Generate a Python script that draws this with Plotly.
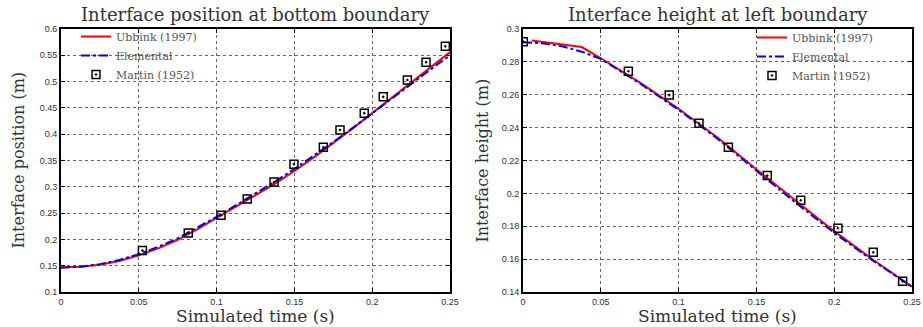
import plotly.graph_objects as go

# ---- Left panel: interface position at bottom boundary ----
t_left = [0, 0.0125, 0.025, 0.0375, 0.05, 0.0625, 0.075, 0.0875, 0.1, 0.1125, 0.125,
          0.1375, 0.15, 0.1625, 0.175, 0.1875, 0.2, 0.2125, 0.225, 0.2375, 0.25]
ubbink_left = [0.147, 0.148, 0.152, 0.159, 0.170, 0.183, 0.199, 0.219, 0.241, 0.262, 0.284,
               0.306, 0.330, 0.356, 0.383, 0.411, 0.440, 0.469, 0.498, 0.527, 0.556]
elemental_left = [0.146, 0.148, 0.153, 0.161, 0.172, 0.186, 0.202, 0.222, 0.243, 0.265, 0.287,
                  0.310, 0.334, 0.359, 0.385, 0.412, 0.440, 0.468, 0.496, 0.523, 0.550]
martin_t_left = [0.0523, 0.0818, 0.1028, 0.1197, 0.1369, 0.1497, 0.1686, 0.1793,
                 0.1949, 0.2071, 0.2226, 0.2346, 0.2470]
martin_left = [0.179, 0.212, 0.246, 0.277, 0.309, 0.343, 0.375, 0.408,
               0.440, 0.471, 0.503, 0.537, 0.567]

# ---- Right panel: interface height at left boundary ----
t_right_ubb = [0.0056, 0.0377, 0.05, 0.075, 0.1, 0.125, 0.15, 0.175, 0.2, 0.225, 0.25]
ubbink_right = [0.2930, 0.2890, 0.2822, 0.2675, 0.2515, 0.2340, 0.2147, 0.1958, 0.1770, 0.1596, 0.1432]
t_right_el = [0, 0.0125, 0.025, 0.0377, 0.05, 0.075, 0.1, 0.125, 0.15, 0.175, 0.2, 0.225, 0.25]
elemental_right = [0.2920, 0.2913, 0.2895, 0.2862, 0.2818, 0.2670, 0.2508, 0.2333, 0.2138,
                   0.1945, 0.1760, 0.1590, 0.1432]
martin_t_right = [0.0002, 0.0677, 0.0940, 0.1131, 0.1320, 0.1570, 0.1785, 0.2024, 0.2251, 0.2440]
martin_right = [0.2923, 0.2743, 0.2598, 0.2426, 0.2280, 0.2108, 0.1958, 0.1788, 0.1642, 0.1465]

x_ticks = [0, 0.05, 0.1, 0.15, 0.2, 0.25]
x_ticktext = ["0", "0.05", "0.1", "0.15", "0.2", "0.25"]
y_ticks_left = [0.1, 0.15, 0.2, 0.25, 0.3, 0.35, 0.4, 0.45, 0.5, 0.55, 0.6]
y_ticktext_left = ["0.1", "0.15", "0.2", "0.25", "0.3", "0.35", "0.4", "0.45", "0.5", "0.55", "0.6"]
y_ticks_right = [0.14, 0.16, 0.18, 0.2, 0.22, 0.24, 0.26, 0.28, 0.3]
y_ticktext_right = ["0.14", "0.16", "0.18", "0.2", "0.22", "0.24", "0.26", "0.28", "0.3"]

RED = "#ff0000"
BLUE = "#0000ff"
SERIF = "DejaVu Serif"
SANS = "Liberation Sans"

fig = go.Figure()

fig.add_trace(go.Scatter(x=t_left, y=ubbink_left, mode="lines", name="Ubbink (1997)",
                         line=dict(color=RED, width=2), xaxis="x", yaxis="y", legend="legend"))
fig.add_trace(go.Scatter(x=t_left, y=elemental_left, mode="lines", name="Elemental",
                         line=dict(color=BLUE, width=2, dash="dashdot"), xaxis="x", yaxis="y",
                         legend="legend"))
fig.add_trace(go.Scatter(x=martin_t_left, y=martin_left, mode="markers", name="Martin (1952)",
                         marker=dict(symbol="square-open-dot", size=8, color="black",
                                     line=dict(width=1.5, color="black")),
                         xaxis="x", yaxis="y", legend="legend"))

fig.add_trace(go.Scatter(x=t_right_ubb, y=ubbink_right, mode="lines", name="Ubbink (1997)",
                         line=dict(color=RED, width=2), xaxis="x2", yaxis="y2", legend="legend2"))
fig.add_trace(go.Scatter(x=t_right_el, y=elemental_right, mode="lines", name="Elemental",
                         line=dict(color=BLUE, width=2, dash="dashdot"), xaxis="x2", yaxis="y2",
                         legend="legend2"))
fig.add_trace(go.Scatter(x=martin_t_right, y=martin_right, mode="markers", name="Martin (1952)",
                         marker=dict(symbol="square-open-dot", size=8, color="black",
                                     line=dict(width=1.5, color="black")),
                         xaxis="x2", yaxis="y2", legend="legend2"))

W, H = 923, 327
ydom = [1 - 292 / H, 1 - 29 / H]


def xax(domain, anchor):
    return dict(domain=domain, anchor=anchor, range=[0, 0.25], tickvals=x_ticks,
                ticktext=x_ticktext, showline=True, linecolor="black", linewidth=2,
                mirror="ticks", ticks="inside", ticklen=4, tickcolor="black",
                showgrid=True, gridcolor="#666666", gridwidth=1, griddash="dot",
                zeroline=False, automargin=False,
                tickfont=dict(family=SANS, size=9, color="#333333"))


def yax(domain, anchor, rng, vals, text):
    return dict(domain=domain, anchor=anchor, range=rng, tickvals=vals, ticktext=text,
                showline=True, linecolor="black", linewidth=2, mirror="ticks",
                ticks="inside", ticklen=4, tickcolor="black", showgrid=True,
                gridcolor="#666666", gridwidth=1, griddash="dot", zeroline=False,
                automargin=False,
                tickfont=dict(family=SANS, size=9, color="#333333"))


xl = [61 / W, 450 / W]
xr = [523 / W, 912 / W]

legend_style = dict(bgcolor="rgba(0,0,0,0)", borderwidth=0,
                    font=dict(family=SERIF, size=11, color="#555555"),
                    xanchor="left", yanchor="top", tracegroupgap=0, itemwidth=30)

fig.update_layout(
    width=W, height=H,
    margin=dict(l=0, r=0, t=0, b=0),
    paper_bgcolor="white", plot_bgcolor="white",
    xaxis=xax(xl, "y"),
    yaxis=yax(ydom, "x", [0.1, 0.6], y_ticks_left, y_ticktext_left),
    xaxis2=xax(xr, "y2"),
    yaxis2=yax(ydom, "x2", [0.14, 0.3], y_ticks_right, y_ticktext_right),
    legend=dict(x=76 / W, y=1 - 22 / H, **legend_style),
    legend2=dict(x=752 / W, y=1 - 23 / H, **legend_style),
    showlegend=True,
)

ann = [
    dict(text="Interface position at bottom boundary", x=(xl[0] + xl[1]) / 2, y=1 - 15 / H, size=18),
    dict(text="Interface height at left boundary", x=(xr[0] + xr[1]) / 2, y=1 - 15 / H, size=18),
    dict(text="Simulated time (s)", x=(xl[0] + xl[1]) / 2, y=1 - 316 / H, size=17),
    dict(text="Simulated time (s)", x=(xr[0] + xr[1]) / 2, y=1 - 316 / H, size=17),
    dict(text="Interface position (m)", x=18 / W, y=(ydom[0] + ydom[1]) / 2, textangle=-90, size=16),
    dict(text="Interface height (m)", x=482 / W, y=(ydom[0] + ydom[1]) / 2, textangle=-90, size=16),
]
for a in ann:
    size = a.pop("size")
    fig.add_annotation(xref="paper", yref="paper", showarrow=False, xanchor="center",
                       yanchor="middle", font=dict(family=SERIF, size=size, color="#333333"), **a)

fig.write_html("out.html", config={"displayModeBar": False},
               post_script="document.body.style.margin='0';document.body.style.overflow='hidden';")
